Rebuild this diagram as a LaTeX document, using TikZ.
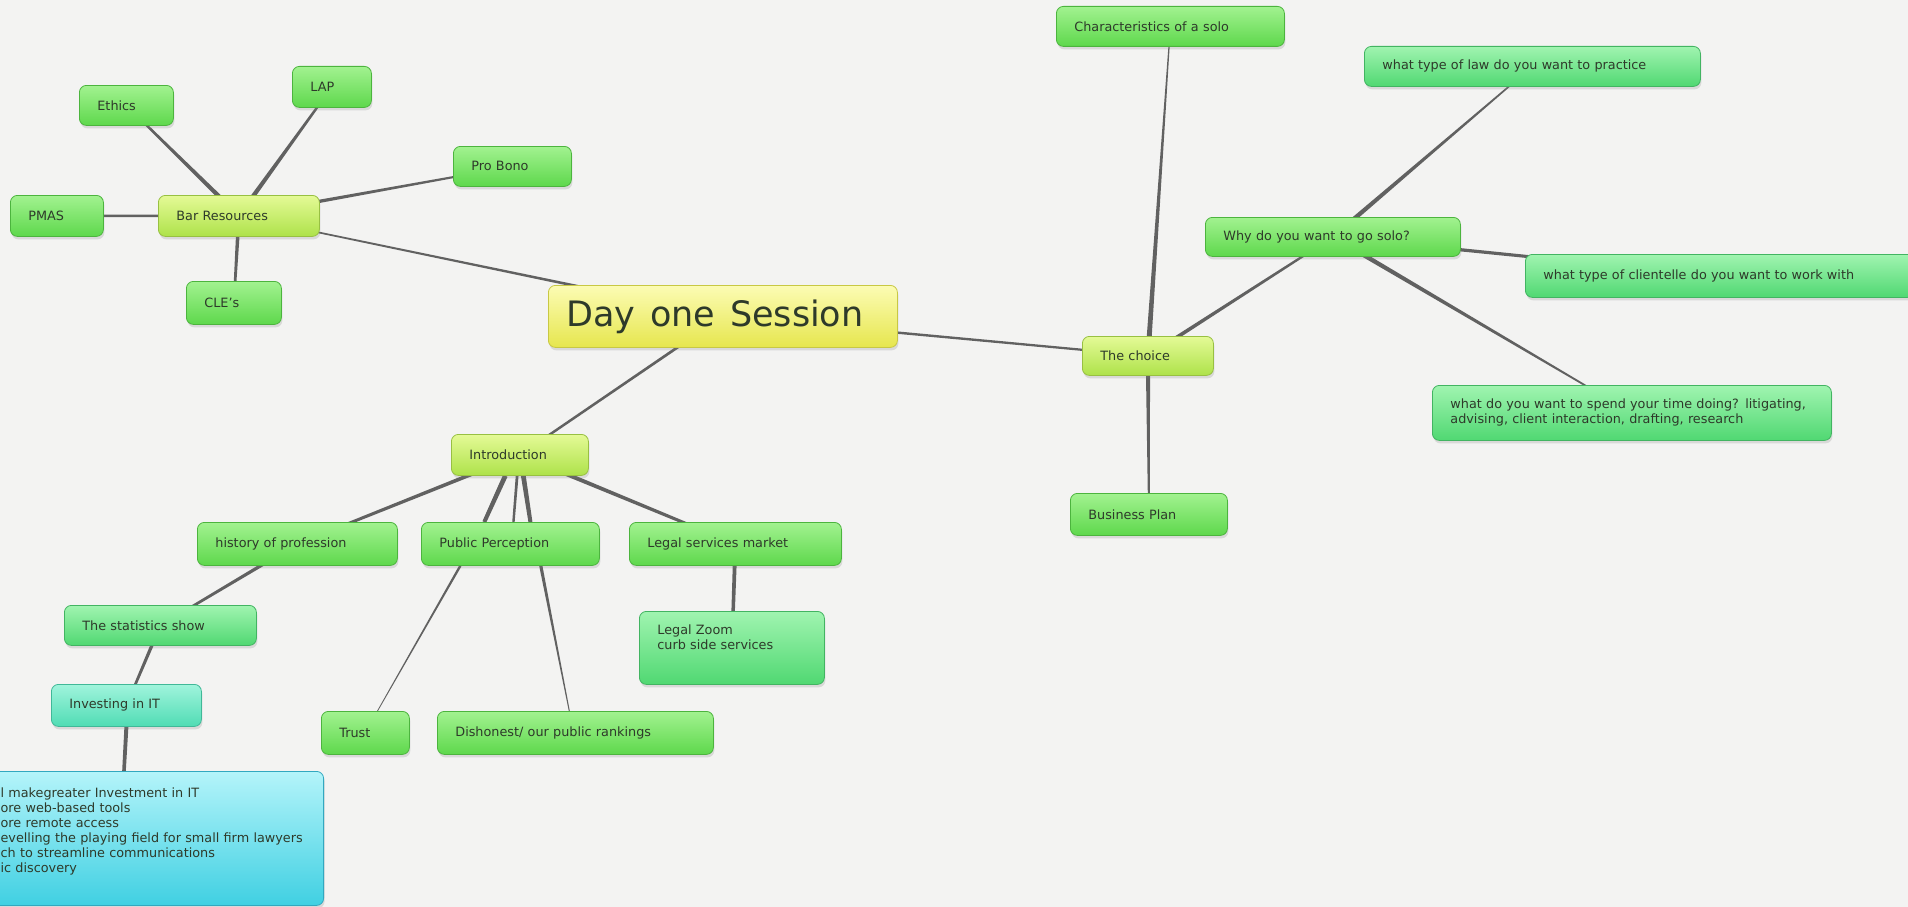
\documentclass[tikz,border=0pt]{standalone}
\usepackage{fontspec}
\setmainfont{DejaVu Sans}
\usetikzlibrary{calc,shadows}
\pgfdeclarelayer{bg}
\pgfdeclarelayer{lines}
\pgfsetlayers{bg,lines,main}
\definecolor{paper}{HTML}{F3F3F2}
\definecolor{txt}{HTML}{2E3A2A}
\definecolor{linecol}{HTML}{555555}
\definecolor{gtop}{HTML}{A2F290}\definecolor{gbot}{HTML}{5ED84C}\definecolor{gborder}{HTML}{4CB43E}
\definecolor{ytop}{HTML}{E4FA96}\definecolor{ybot}{HTML}{AEE24A}\definecolor{yborder}{HTML}{98C042}
\definecolor{stop}{HTML}{A0F4B0}\definecolor{sbot}{HTML}{50D872}\definecolor{sborder}{HTML}{42B462}
\definecolor{atop}{HTML}{A0F4DC}\definecolor{abot}{HTML}{50DCB4}\definecolor{aborder}{HTML}{40B898}
\definecolor{ctop}{HTML}{B4F4FA}\definecolor{cbot}{HTML}{40D0E2}\definecolor{cborder}{HTML}{32A8C0}
\definecolor{dtop}{HTML}{FCFCB4}\definecolor{dbot}{HTML}{E6E64E}\definecolor{dborder}{HTML}{C8C844}
\tikzset{
  box/.style={rounded corners=7pt, draw=#1border, line width=0.8pt,
    top color=#1top, bottom color=#1bot, text=txt,
    inner xsep=18pt, inner ysep=0pt, align=left,
    font=\fontsize{12.8}{15}\selectfont,
    drop shadow={shadow xshift=1pt, shadow yshift=-3pt, opacity=0.22}},
}
\newcommand\mmnode[7]{%
  \pgfmathsetmacro\mmW{#5-(#3)}%
  \pgfmathsetmacro\mmH{#6-(#4)}%
  \pgfmathsetmacro\mmT{#5-(#3)-36}%
  \node[box=#2, anchor=north west, minimum width=\mmW pt, minimum height=\mmH pt, text width=\mmT pt] (#1) at (#3,#4) {#7};}
\newcommand\mmtaper[4]{\fill[linecol, opacity=0.92] ($(#1)!#3pt!90:(#2)$) -- ($(#1)!#3pt!-90:(#2)$) -- ($(#2)!#4pt!90:(#1)$) -- ($(#2)!#4pt!-90:(#1)$) -- cycle;}
\newcommand\mmind{\hspace*{20pt}}
\begin{document}
\begin{tikzpicture}[x=1pt,y=-1pt]
\useasboundingbox (0,0) rectangle (1908,907);
\begin{pgfonlayer}{bg}
\fill[paper] (0,0) rectangle (1908,907);
\end{pgfonlayer}
% nodes
\mmnode{ethics}{g}{79}{85}{173}{125}{Ethics}
\mmnode{lap}{g}{292}{66}{371}{107}{LAP}
\mmnode{probono}{g}{453}{146}{571}{186}{Pro Bono}
\mmnode{pmas}{g}{10}{195}{103}{236}{PMAS}
\mmnode{bar}{y}{158}{195}{319}{236}{Bar Resources}
\mmnode{cle}{g}{186}{281}{281}{324}{CLE's}
\mmnode{day}{d}{548}{285}{897}{347}{\fontsize{35}{40}\selectfont\spaceskip=0.42em Day one Session}
\mmnode{char}{g}{1056}{6}{1284}{46}{Characteristics of a solo}
\mmnode{law}{s}{1364}{46}{1700}{86}{what type of law do you want to practice}
\mmnode{why}{g}{1205}{217}{1460}{256}{Why do you want to go solo?}
\mmnode{client}{s}{1525}{254}{1914}{297}{what type of clientelle do you want to work with}
\mmnode{choice}{y}{1082}{336}{1213}{375}{The choice}
\mmnode{spend}{s}{1432}{385}{1831}{440}{\fontsize{12.8}{16}\selectfont what do you want to spend your time doing? litigating,\\advising, client interaction, drafting, research}
\mmnode{intro}{y}{451}{434}{588}{475}{Introduction}
\mmnode{biz}{g}{1070}{493}{1227}{535}{Business Plan}
\mmnode{history}{g}{197}{522}{397}{565}{history of profession}
\mmnode{pp}{g}{421}{522}{599}{565}{Public Perception}
\mmnode{lsm}{g}{629}{522}{841}{565}{Legal services market}
\mmnode{stats}{s}{64}{605}{256}{645}{The statistics show}
\mmnode{zoom}{s}{639}{611}{824}{684}{\rule{0pt}{23pt}Legal Zoom\\curb side services\rule[-35pt]{0pt}{35pt}}
\mmnode{invest}{a}{51}{684}{201}{726}{Investing in IT}
\mmnode{trust}{g}{321}{711}{409}{754}{Trust}
\mmnode{dis}{g}{437}{711}{713}{754}{Dishonest/ our public rankings}
\node[box=c, anchor=north east, minimum height=134pt, inner xsep=1pt, text width=342pt] (big) at (324,771)
  {\mmind\rule{0pt}{26pt}l makegreater Investment in IT\\\mmind ore web-based tools\\\mmind ore remote access\\\mmind evelling the playing field for small firm lawyers\\\mmind ch to streamline communications\\\mmind ic discovery\rule[-33pt]{0pt}{33pt}};
% anchor points
\coordinate (ia) at ($(intro.south west)!0.394!(intro.south east)$);
\coordinate (ib) at ($(intro.south west)!0.48!(intro.south east)$);
\coordinate (ic) at ($(intro.south west)!0.525!(intro.south east)$);
\coordinate (pa) at ($(pp.north west)!0.354!(pp.north east)$);
\coordinate (pb) at ($(pp.north west)!0.517!(pp.north east)$);
\coordinate (pc) at ($(pp.north west)!0.612!(pp.north east)$);
\coordinate (ps1) at ($(pp.south west)!0.22!(pp.south east)$);
\coordinate (ps2) at ($(pp.south west)!0.67!(pp.south east)$);
\coordinate (tt) at ($(trust.north west)!0.636!(trust.north east)$);
\coordinate (dt) at ($(dis.north west)!0.478!(dis.north east)$);
\coordinate (bigt) at ($(big.north east)+(-200,0)$);
% connectors
\begin{pgfonlayer}{lines}
\mmtaper{bar}{ethics}{2.4}{1.0}
\mmtaper{bar}{lap}{2.4}{1.0}
\mmtaper{bar}{probono}{2.0}{0.8}
\mmtaper{bar}{pmas}{1.6}{1.0}
\mmtaper{bar}{cle}{2.0}{1.1}
\mmtaper{day}{bar}{1.6}{0.7}
\mmtaper{day}{choice}{1.3}{1.1}
\mmtaper{day}{intro}{1.4}{1.2}
\mmtaper{choice}{char}{2.6}{0.5}
\mmtaper{choice}{biz}{2.2}{0.8}
\mmtaper{choice}{why}{2.0}{1.0}
\mmtaper{why}{law}{2.4}{0.6}
\mmtaper{why}{client}{1.8}{1.3}
\mmtaper{why}{spend}{2.4}{0.6}
\mmtaper{intro}{history}{2.0}{1.3}
\mmtaper{ia}{pa}{2.4}{2.0}
\mmtaper{ib}{pb}{1.4}{1.2}
\mmtaper{ic}{pc}{2.4}{2.0}
\mmtaper{intro}{lsm}{2.2}{1.3}
\mmtaper{history}{stats}{1.8}{1.2}
\mmtaper{stats}{invest}{1.8}{1.2}
\mmtaper{invest.south}{bigt}{2.0}{1.8}
\mmtaper{ps1}{tt}{1.2}{0.4}
\mmtaper{ps2}{dt}{1.6}{0.5}
\mmtaper{lsm}{zoom}{2.0}{1.6}
\end{pgfonlayer}
\end{tikzpicture}
\end{document}
